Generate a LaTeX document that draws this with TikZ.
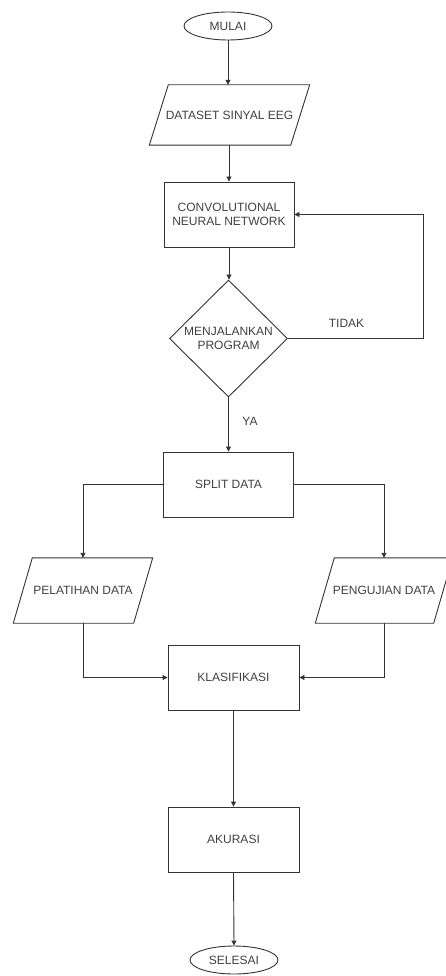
\documentclass[tikz,border=0pt]{standalone}
\usepackage{fontspec}
\setmainfont{Liberation Sans}
\usetikzlibrary{shapes.geometric,arrows.meta}
\begin{document}
\begin{tikzpicture}[x=1pt,y=-1pt,
  every node/.style={font=\fontsize{12}{14}\selectfont, text=black!75, align=center},
  ln/.style={draw=black!80, line width=0.9pt},
  arr/.style={ln, -{Triangle[width=5pt,length=5pt]}},
  box/.style={ln, rectangle, minimum width=130pt, minimum height=65pt, inner sep=0pt},
  term/.style={ln, ellipse, minimum width=88pt, minimum height=28pt, inner sep=0pt},
  dec/.style={ln, diamond, minimum width=118pt, minimum height=117pt, inner sep=0pt},
  para/.style 2 args={rectangle, minimum width=#1, minimum height=#2, inner sep=0pt,
    append after command={\pgfextra{\let\pnode\tikzlastnode
      \draw[ln] ([xshift=9.5pt]\pnode.north west) -- ([xshift=9.5pt]\pnode.north east)
        -- ([xshift=-9.5pt]\pnode.south east) -- ([xshift=-9.5pt]\pnode.south west) -- cycle;}}},
  lbl/.style={inner sep=0pt}
]
\useasboundingbox (0,0) rectangle (445,976);

\node[term] (mulai) at (228,26) {MULAI};
\node[para={141pt}{60pt}] (data) at (229.5,115) {DATASET SINYAL EEG};
\node[box] (cnn) at (229,214.5) {CONVOLUTIONAL\\NEURAL NETWORK};
\node[dec] (dia) at (228.5,338.5) {MENJALANKAN\\PROGRAM};
\node[box] (split) at (228.5,484.5) {SPLIT DATA};
\node[para={120pt}{65pt}] (pel) at (83,590.5) {PELATIHAN DATA};
\node[para={118pt}{65pt}] (peng) at (384,590.5) {PENGUJIAN DATA};
\node[box, minimum width=131pt] (klas) at (233.5,677.5) {KLASIFIKASI};
\node[box, minimum width=131pt] (akur) at (233.5,839.5) {AKURASI};
\node[term] (sel) at (234,960) {SELESAI};

\coordinate (loop) at (423,338.5);
\node[lbl] (tidak) at (346.5,323) {TIDAK};
\node[lbl] (ya) at (250,421) {YA};

\draw[arr] (mulai.south) -- (mulai.south |- data.north);
\draw[arr] (data.south -| cnn.north) -- (cnn.north);
\draw[arr] (cnn.south) -- (cnn.south |- dia.north);
\draw[arr] (dia.east) -- (loop) |- (cnn.east);
\draw[arr] (dia.south) -- (split.north);
\draw[arr] (split.west) -| (pel.north);
\draw[arr] (split.east) -| (peng.north);
\draw[arr] (pel.south) |- (klas.west);
\draw[arr] (peng.south) |- (klas.east);
\draw[arr] (klas.south) -- (akur.north);
\draw[arr] (akur.south) -- (sel.north);
\end{tikzpicture}
\end{document}
